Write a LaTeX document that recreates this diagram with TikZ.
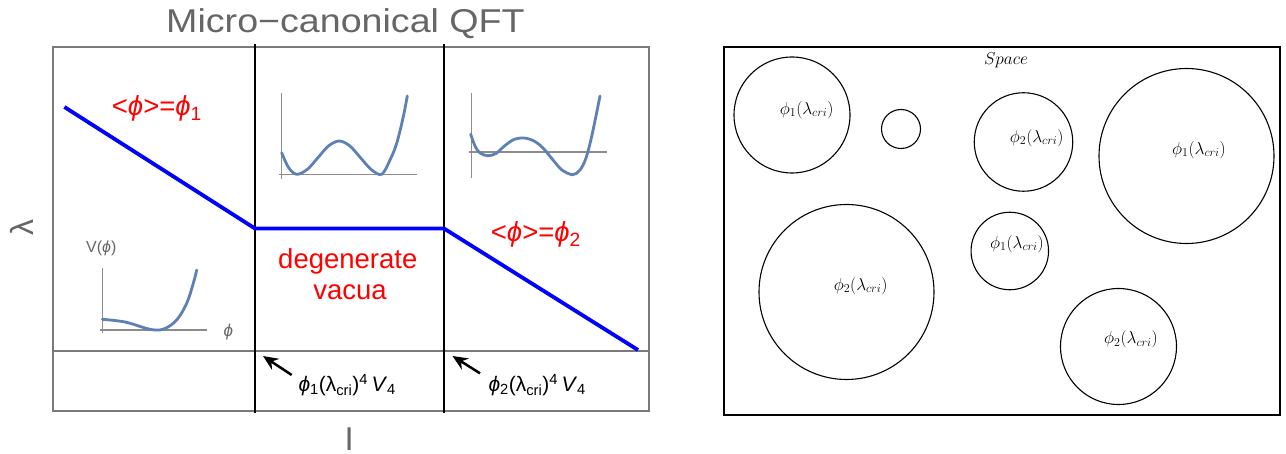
\documentclass[tikz,border=0pt]{standalone}
\usepackage{fontspec}
\setmainfont{Liberation Sans}
\usetikzlibrary{arrows.meta}
\definecolor{titlegray}{HTML}{666666}
\definecolor{curveblue}{HTML}{5E81B5}
\definecolor{framegray}{HTML}{7A7A7A}
\definecolor{inaxis}{HTML}{8C8C8C}
\begin{document}
\begin{tikzpicture}[x=1pt,y=-1pt,
  redlbl/.style={text=red, font=\fontsize{27.5}{30}\selectfont, inner sep=0pt},
  graylbl/.style={text=titlegray, inner sep=0pt},
  frameline/.style={draw=framegray, line width=1.2pt},
  divider/.style={draw=black, line width=1.8pt},
  phaseline/.style={draw=blue, line width=3.8pt, line join=miter},
  insetaxis/.style={draw=inaxis, line width=1.2pt},
  insetcurve/.style={draw=curveblue, line width=2.8pt, line cap=round},
  pointer/.style={draw=black, line width=2.5pt, -{Stealth[length=15pt,width=13pt]}},
  critlbl/.style={font=\fontsize{21}{24}\selectfont, inner sep=0pt, anchor=base west},
  bubble/.style={draw=black, circle, line width=1.1pt, inner sep=0pt},
  bubblelbl/.style={font=\fontsize{18}{20}\selectfont, inner sep=0pt}
]
\useasboundingbox (0,0) rectangle (1286,454);
\fill[white] (0,0) rectangle (1286,454);

% ---------------- left panel ----------------
\node[graylbl, anchor=base, font=\fontsize{33}{36}\selectfont] (title) at (345.5,32.7)
  {\scalebox{1.14}[1]{Micro−canonical QFT}};
\draw[frameline] (53,47) rectangle (649,411);
\draw[frameline] (53,351) -- (649,351);
\coordinate (d1t) at (255,44); \coordinate (d1b) at (255,413);
\coordinate (d2t) at (444,44); \coordinate (d2b) at (444,413);
\draw[divider] (d1t) -- (d1b);
\draw[divider] (d2t) -- (d2b);

\node[graylbl, rotate=90, font=\fontsize{32}{34}\selectfont] (lam) at (21.5,228) {λ};
\node[graylbl, anchor=base, font=\fontsize{33}{36}\selectfont] (ilbl) at (349.2,450) {I};

% phase line
\coordinate (p0) at (64.4,107);
\coordinate (p1) at (255,228.5);
\coordinate (p2) at (444,228.5);
\coordinate (p3) at (638,350);
\draw[phaseline] (p0) -- (p1) -- (p2) -- (p3);

% red labels
\node[redlbl, anchor=base west] (vev1) at (111.7,116)
  {<\textit{ϕ}>=\textit{ϕ}\textsubscript{1}};
\node[redlbl, anchor=base west] (vev2) at (490.7,241.7)
  {<\textit{ϕ}>=\textit{ϕ}\textsubscript{2}};
\node[redlbl, anchor=base] (deg) at (347.8,269) {degenerate};
\node[redlbl, anchor=base] (vac) at (350,299.3) {vacua};

% left inset
\node[graylbl, anchor=base west, font=\fontsize{16}{18}\selectfont] (vlbl) at (86,253) {V(\textit{ϕ})};
\node[graylbl, font=\fontsize{17}{18}\selectfont] (philbl) at (228.3,332) {\textit{ϕ}};
\draw[insetaxis] (102.3,268.3) -- (102.3,333.3);
\draw[insetaxis] (100,330) -- (206.7,330);
\draw[insetcurve] plot[smooth, tension=0.6] coordinates {(102.3,319.3) (125,322) (145,328) (155,330) (165,328.5) (176.7,320) (186.7,303.3) (193.3,283.3) (196.7,270)};

% middle inset
\draw[insetaxis] (281.7,93.3) -- (281.7,179.3);
\draw[insetaxis] (279,174.3) -- (417,174.3);
\draw[insetcurve] plot[smooth, tension=0.55] coordinates {(281.7,152.7) (288.5,167.5) (296.7,174.3) (307.3,169.4) (317.95,157.65) (328.6,145.9) (339.2,141) (349.8,145.9) (360.45,157.65) (371.1,169.4) (381.7,174.3) (390,160) (396.7,143.3) (403.3,116.7) (407.3,96)};

% right inset
\draw[insetaxis] (471.3,93.3) -- (471.3,178.3);
\draw[insetaxis] (468.7,152) -- (607.3,152);
\draw[insetcurve] plot[smooth, tension=0.55] coordinates {(470.7,134.3) (475,146) (480,153) (487.7,155.7) (496,153.5) (505,145.5) (514,139.5) (524,138) (534,141) (543,148) (553,160) (562,170) (572.7,174.7) (580,170) (586,158) (592,135) (600,96)};

% critical labels and arrows
\node[critlbl] (crit1) at (298.3,391.7)
  {\textit{ϕ}\textsubscript{1}(λ\textsubscript{cri})\textsuperscript{4}\,\textit{V}\textsubscript{4}};
\node[critlbl] (crit2) at (488.3,391.7)
  {\textit{ϕ}\textsubscript{2}(λ\textsubscript{cri})\textsuperscript{4}\,\textit{V}\textsubscript{4}};
\coordinate (a1s) at (291.7,375); \coordinate (a1e) at (263,356);
\coordinate (a2s) at (480,373.3); \coordinate (a2e) at (452.5,356);
\draw[pointer] (a1s) -- (a1e);
\draw[pointer] (a2s) -- (a2e);

% ---------------- right panel ----------------
\draw[black, line width=1.4pt] (724,47) rectangle (1280,415);
\node[bubblelbl] (space) at (1006,60) {$Space$};

\node[bubble, minimum size=116pt] (c1) at (792,115) {};
\node[bubble, minimum size=39pt] (c2) at (901,129) {};
\node[bubble, minimum size=98.5pt] (c3) at (1023.5,142) {};
\node[bubble, minimum size=175pt] (c4) at (1186.5,156) {};
\node[bubble, minimum size=175pt] (c5) at (846.5,292) {};
\node[bubble, minimum size=77.5pt] (c6) at (1009.8,251) {};
\node[bubble, minimum size=116pt] (c7) at (1118.5,346.5) {};

\node[bubblelbl] (l1) at (806.7,110) {$\phi_1(\lambda_{cri})$};
\node[bubblelbl] (l3) at (1036.7,138) {$\phi_2(\lambda_{cri})$};
\node[bubblelbl] (l4) at (1199,150) {$\phi_1(\lambda_{cri})$};
\node[bubblelbl] (l5) at (860.6,286) {$\phi_2(\lambda_{cri})$};
\node[bubblelbl] (l6) at (1017,244) {$\phi_1(\lambda_{cri})$};
\node[bubblelbl] (l7) at (1131,339.6) {$\phi_2(\lambda_{cri})$};
\end{tikzpicture}
\end{document}
